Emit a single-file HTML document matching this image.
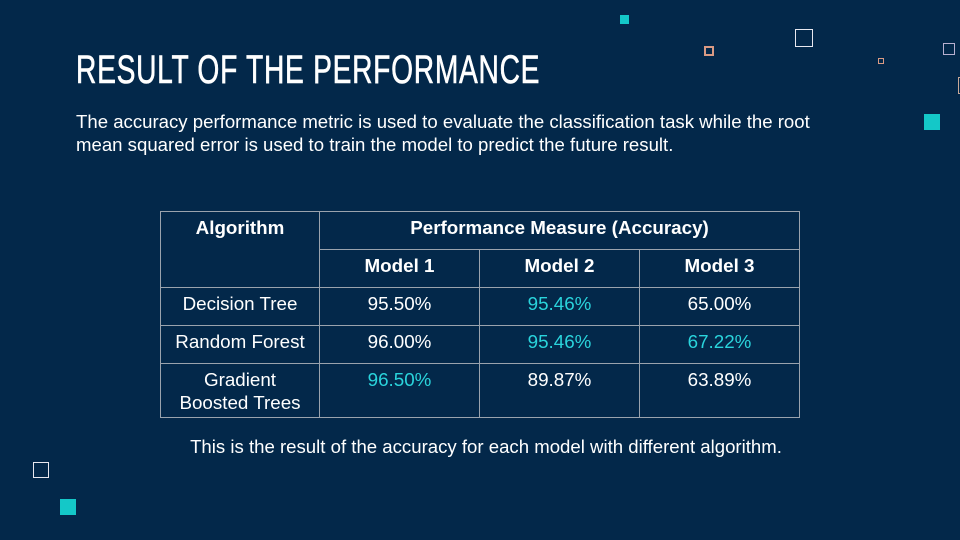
<!DOCTYPE html>
<html><head><meta charset="utf-8"><style>
body{margin:0;width:960px;height:540px;background:#03284a;overflow:hidden;position:relative;font-family:"Liberation Sans",sans-serif;color:#fff}
.sq{position:absolute;box-sizing:border-box}
h1{position:absolute;left:76px;top:48px;margin:0;font-weight:normal;font-size:40px;letter-spacing:1px;transform:scaleX(0.705);transform-origin:left top;white-space:nowrap;-webkit-text-stroke:0.6px #fff}
p{position:absolute;margin:0;font-size:18.6px;line-height:23px}
table{position:absolute;left:160px;top:211px;border-collapse:collapse;font-size:18.8px}
td{border:1px solid #9aa3ad;text-align:center;vertical-align:top;padding:5px 0 0;width:159px;box-sizing:border-box}
.h{font-weight:bold}.c{color:#2ad4dc}
</style></head><body>
<div class="sq" style="left:620px;top:15px;width:9px;height:9px;background:#14c8c8"></div>
<div class="sq" style="left:704px;top:46px;width:10px;height:10px;border:2px solid #d99a84"></div>
<div class="sq" style="left:795px;top:29px;width:18px;height:18px;border:1px solid #e8e8f0"></div>
<div class="sq" style="left:878px;top:58px;width:6px;height:6px;border:1px solid #d99a84"></div>
<div class="sq" style="left:943px;top:43px;width:12px;height:12px;border:1px solid #b8b0d0"></div>
<div class="sq" style="left:958px;top:77px;width:10px;height:17px;border:1px solid #c8a898"></div>
<div class="sq" style="left:924px;top:114px;width:16px;height:16px;background:#14c8c8"></div>
<div class="sq" style="left:33px;top:462px;width:16px;height:16px;border:1px solid #e8e8f0"></div>
<div class="sq" style="left:60px;top:499px;width:16px;height:16px;background:#14c8c8"></div>
<h1>RESULT OF THE PERFORMANCE</h1>
<p style="left:76px;top:110px">The accuracy performance metric is used to evaluate the classification task while the root<br>mean squared error is used to train the model to predict the future result.</p>
<table>
<tr style="height:38px"><td class="h" rowspan="2">Algorithm</td><td class="h" colspan="3" style="width:480px">Performance Measure (Accuracy)</td></tr>
<tr style="height:38px"><td class="h">Model 1</td><td class="h">Model 2</td><td class="h">Model 3</td></tr>
<tr style="height:38px"><td>Decision Tree</td><td>95.50%</td><td class="c">95.46%</td><td>65.00%</td></tr>
<tr style="height:38px"><td>Random Forest</td><td>96.00%</td><td class="c">95.46%</td><td class="c">67.22%</td></tr>
<tr style="height:54px"><td style="line-height:23px;padding-top:4px">Gradient<br>Boosted Trees</td><td class="c">96.50%</td><td>89.87%</td><td>63.89%</td></tr>
</table>
<p style="left:0;width:972px;text-align:center;top:435px">This is the result of the accuracy for each model with different algorithm.</p>
</body></html>
